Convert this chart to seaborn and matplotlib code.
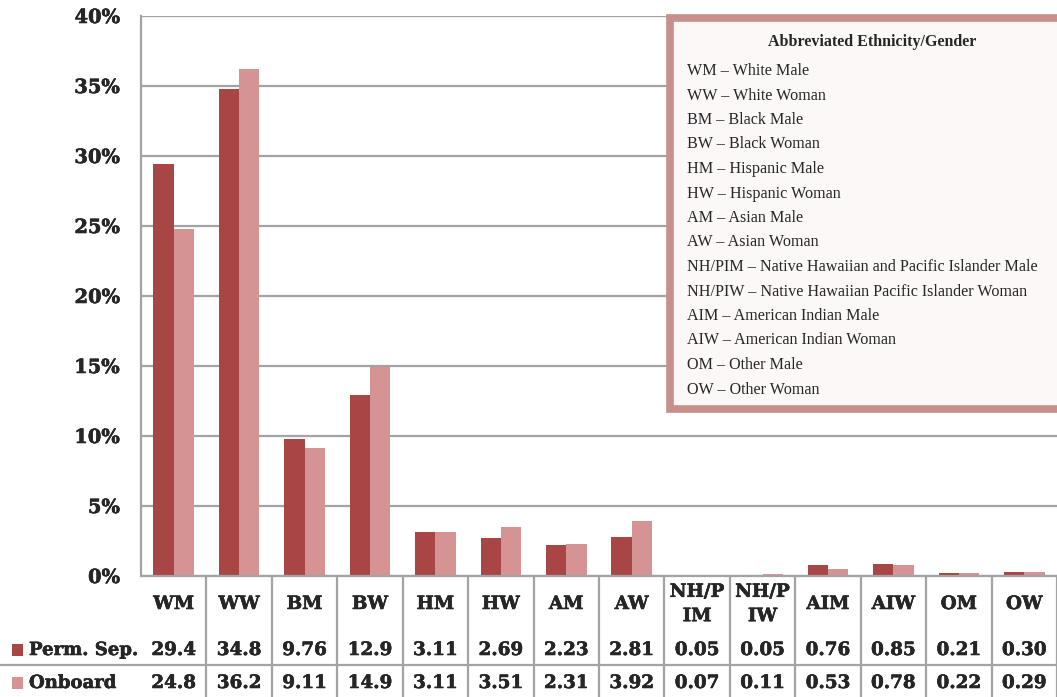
import matplotlib
matplotlib.use("Agg")
import matplotlib.pyplot as plt
import matplotlib.patheffects as pe
import seaborn as sns
import pandas as pd
from matplotlib.patches import Rectangle
from matplotlib.lines import Line2D

# ---- data ----
categories = ["WM", "WW", "BM", "BW", "HM", "HW", "AM", "AW",
              "NH/PIM", "NH/PIW", "AIM", "AIW", "OM", "OW"]
table_labels = ["WM", "WW", "BM", "BW", "HM", "HW", "AM", "AW",
                "NH/P\nIM", "NH/P\nIW", "AIM", "AIW", "OM", "OW"]
perm_sep = [29.4, 34.8, 9.76, 12.9, 3.11, 2.69, 2.23, 2.81, 0.05, 0.05, 0.76, 0.85, 0.21, 0.30]
onboard = [24.8, 36.2, 9.11, 14.9, 3.11, 3.51, 2.31, 3.92, 0.07, 0.11, 0.53, 0.78, 0.22, 0.29]
series = ["Perm. Sep.", "Onboard"]
yticks = [0, 5, 10, 15, 20, 25, 30, 35, 40]

key_title = "Abbreviated Ethnicity/Gender"
key_lines = [
    "WM \u2013 White Male",
    "WW \u2013 White Woman",
    "BM \u2013 Black Male",
    "BW \u2013 Black Woman",
    "HM \u2013 Hispanic Male",
    "HW \u2013 Hispanic Woman",
    "AM \u2013 Asian Male",
    "AW \u2013 Asian Woman",
    "NH/PIM \u2013 Native Hawaiian and Pacific Islander Male",
    "NH/PIW \u2013 Native Hawaiian Pacific Islander Woman",
    "AIM \u2013 American Indian Male",
    "AIW \u2013 American Indian Woman",
    "OM \u2013 Other Male",
    "OW \u2013 Other Woman",
]

colors = ["#A84646", "#D59393"]
grid_col = "#A3A3A3"

df = pd.DataFrame({
    "group": categories * 2,
    "series": [series[0]] * len(categories) + [series[1]] * len(categories),
    "value": perm_sep + onboard,
})

sns.set_theme(style="white")
plt.rcParams["font.family"] = ["DejaVu Serif"]

# slightly heavier strokes for the bold labels
heavy = [pe.withStroke(linewidth=0.35, foreground="black")]

W, H = 1057, 697
fig = plt.figure(figsize=(W / 100, H / 100), dpi=100)
fig.patch.set_facecolor("white")

left_px, top_px, bottom_px = 141, 16, 576
ax = fig.add_axes([left_px / W, 1 - bottom_px / H, (W - left_px) / W, (bottom_px - top_px) / H])

sns.barplot(data=df, x="group", y="value", hue="series", order=categories,
            hue_order=series, palette=colors, width=0.62, saturation=1,
            linewidth=0, legend=False, ax=ax)

ax.set_xlim(-0.5, len(categories) - 0.5)
ax.set_ylim(0, 40)
ax.set_yticks(yticks)
ax.set_yticklabels([f"{v}%" for v in yticks], fontsize=14, fontweight="bold",
                   family="DejaVu Serif")
for t in ax.get_yticklabels():
    t.set_path_effects(heavy)
ax.tick_params(axis="y", length=0, pad=15)
ax.set_xticks([])
ax.set_xlabel("")
ax.set_ylabel("")
ax.grid(axis="y", color=grid_col, linewidth=1.6)
ax.set_axisbelow(True)
for s in ["top", "right", "bottom"]:
    ax.spines[s].set_visible(False)
ax.spines["left"].set_color(grid_col)
ax.spines["left"].set_linewidth(1.6)
ax.set_facecolor("white")


def fx(x):
    return x / W


def fy(y):
    return 1 - y / H


# ---- data table below the plot ----
col_w = (W - left_px) / len(categories)
for k in range(1, len(categories) + 1):
    xk = left_px + col_w * k
    fig.add_artist(Line2D([fx(xk), fx(xk)], [fy(bottom_px), fy(H)],
                          transform=fig.transFigure, color=grid_col, linewidth=1.6))
fig.add_artist(Line2D([fx(0), fx(W)], [fy(665), fy(665)],
                      transform=fig.transFigure, color=grid_col, linewidth=1.6))
fig.add_artist(Line2D([fx(left_px), fx(W)], [fy(bottom_px), fy(bottom_px)],
                      transform=fig.transFigure, color=grid_col, linewidth=1.6))


def fmt(v):
    return f"{v:.1f}" if v >= 10 else f"{v:.2f}"


row_y = [650, 683]
for i, lab in enumerate(table_labels):
    xc = fx(left_px + col_w * (i + 0.5))
    fig.text(xc, fy(604), lab, ha="center", va="center", fontsize=13.2,
             fontweight="bold", linespacing=1.45, path_effects=heavy)
    for vals, ry in zip([perm_sep, onboard], row_y):
        fig.text(xc, fy(ry), fmt(vals[i]), ha="center", va="center",
                 fontsize=13.2, fontweight="bold", path_effects=heavy)

for name, col, ry in zip(series, colors, row_y):
    fig.add_artist(Rectangle((fx(12), fy(ry + 6)), 11 / W, 12 / H,
                             transform=fig.transFigure, facecolor=col, edgecolor="none"))
    fig.text(fx(29), fy(ry), name, ha="left", va="center", fontsize=13,
             fontweight="bold", path_effects=heavy)

# ---- abbreviation key ----
fig.add_artist(Rectangle((fx(670), fy(409)), (W + 10 - 670) / W, (409 - 18) / H,
                         transform=fig.transFigure, facecolor="#FCF8F8",
                         edgecolor="#C8908A", linewidth=5.5))
fig.text(fx(872), fy(42), key_title, ha="center", va="center", fontsize=11.5,
         fontweight="bold", family="Liberation Serif")
for j, line in enumerate(key_lines):
    fig.text(fx(687), fy(71 + 24.5 * j), line, ha="left", va="center",
             fontsize=11.6, family="Liberation Serif")

fig.savefig("out.png", dpi=100)
